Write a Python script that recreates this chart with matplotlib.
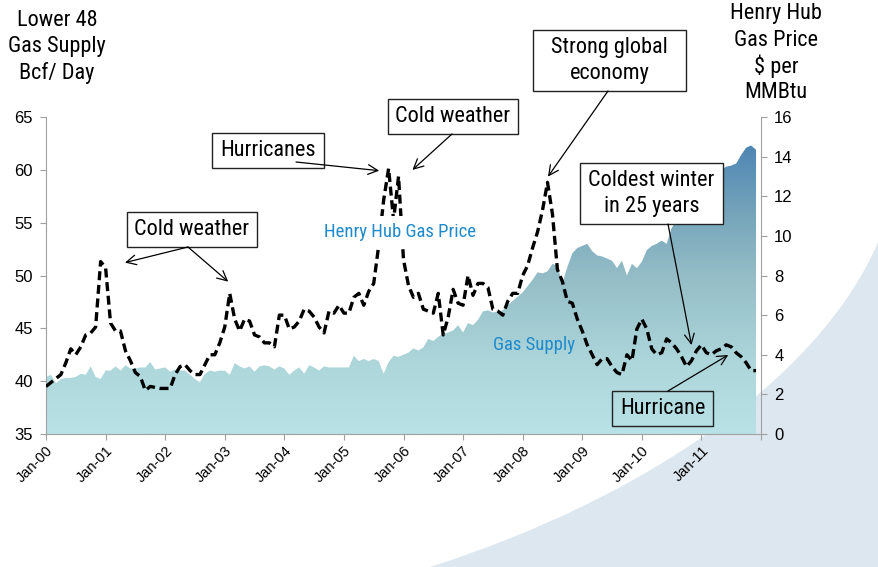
import numpy as np
import matplotlib
matplotlib.use("Agg")
import matplotlib.pyplot as plt
from matplotlib.patches import Rectangle, PathPatch, ConnectionPatch
from matplotlib.path import Path
from matplotlib.colors import LinearSegmentedColormap
from matplotlib import font_manager

# ---------------- data (monthly, Jan-2000 .. Dec-2011) ----------------
supply = [  # Lower 48 gas supply, Bcf/day
    40.4, 40.6, 39.8, 40.2, 40.3, 40.3, 40.4, 40.7, 40.6, 41.4, 40.4, 40.2,
    41.0, 41.0, 41.4, 41.0, 41.5, 41.2, 41.2, 41.3, 41.3, 41.8, 41.1, 41.2,
    41.3, 40.9, 41.1, 41.0, 41.0, 40.6, 40.2, 39.9, 40.7, 41.0, 40.9, 41.0,
    41.0, 40.6, 41.7, 41.4, 41.2, 41.4, 40.9, 41.4, 41.5, 41.4, 41.1, 41.4,
    41.2, 40.6, 41.0, 41.3, 40.7, 41.5, 41.3, 41.0, 41.4, 41.3, 41.3, 41.3,
    41.3, 41.3, 42.4, 41.9, 42.1, 41.9, 42.1, 41.9, 40.7, 41.8, 42.4, 42.3,
    42.5, 42.7, 43.1, 42.9, 43.2, 44.0, 43.8, 44.2, 44.5, 44.6, 44.8, 45.3,
    44.6, 45.5, 45.3, 45.8, 46.6, 46.7, 46.5, 46.6, 46.7, 47.2, 47.6, 48.0,
    48.4, 49.0, 49.6, 50.3, 50.2, 50.4, 51.1, 50.9, 49.3, 50.8, 52.1, 52.6,
    52.8, 53.0, 52.3, 51.9, 51.8, 51.6, 51.4, 50.7, 51.4, 50.0, 51.1, 50.7,
    51.3, 52.4, 52.8, 53.0, 53.3, 53.0, 54.5, 55.2, 55.6, 56.1, 56.5, 56.7,
    56.5, 56.0, 58.0, 59.3, 60.0, 60.3, 60.4, 60.6, 61.4, 62.1, 62.3, 61.9,
]
price = [  # Henry Hub gas price, $/MMBtu
    2.4, 2.6, 2.8, 3.0, 3.6, 4.3, 4.0, 4.4, 5.0, 5.1, 5.4, 8.7,
    8.4, 5.6, 5.2, 5.2, 4.2, 3.7, 3.1, 2.9, 2.2, 2.4, 2.35, 2.3,
    2.3, 2.3, 3.0, 3.4, 3.5, 3.2, 3.0, 3.0, 3.5, 4.0, 4.0, 4.6,
    5.4, 7.1, 5.8, 5.2, 5.8, 5.7, 5.0, 4.9, 4.6, 4.6, 4.4, 6.0,
    6.0, 5.3, 5.4, 5.7, 6.3, 6.2, 5.9, 5.4, 5.1, 6.2, 6.1, 6.5,
    6.1, 6.1, 6.9, 7.1, 6.5, 7.2, 7.6, 9.5, 11.8, 13.4, 10.8, 13.0,
    8.8, 7.5, 6.9, 7.1, 6.3, 6.2, 6.1, 7.1, 5.0, 5.9, 7.3, 6.6,
    6.5, 8.0, 7.0, 7.6, 7.6, 7.4, 6.3, 6.2, 6.0, 6.7, 7.1, 7.1,
    8.0, 8.5, 9.4, 10.2, 11.3, 12.7, 11.1, 8.3, 7.7, 6.7, 6.6, 5.8,
    5.2, 4.5, 4.0, 3.5, 3.8, 3.8, 3.4, 3.1, 3.0, 4.0, 3.7, 5.3,
    5.8, 5.3, 4.3, 4.0, 4.1, 4.8, 4.6, 4.3, 3.9, 3.4, 3.7, 4.2,
    4.5, 4.1, 4.0, 4.2, 4.3, 4.5, 4.4, 4.1, 3.9, 3.6, 3.2, 3.2,
]
years = list(range(2000, 2012))
tick_labels = [f"Jan-{y % 100:02d}" for y in years]
left_ticks = [35, 40, 45, 50, 55, 60, 65]
right_ticks = [0, 2, 4, 6, 8, 10, 12, 14, 16]

# ---------------- fonts ----------------
installed = {f.name for f in font_manager.fontManager.ttflist}
NARROW = next((n for n in ("Roboto Condensed", "Archivo Narrow", "PT Sans Narrow",
                           "Liberation Sans") if n in installed), "DejaVu Sans")
REGULAR = "Liberation Sans" if "Liberation Sans" in installed else "DejaVu Sans"
plt.rcParams["font.family"] = [REGULAR, "DejaVu Sans"]

W, H = 879, 567
fig = plt.figure(figsize=(W / 100, H / 100), dpi=100)
fig.patch.set_facecolor("white")


def fx(x):
    return x / W


def fy(y):
    return 1 - y / H


# decorative background swoosh in the lower right corner
verts = [(fx(430), fy(567)), (fx(640), fy(500)), (fx(820), fy(380)), (fx(879), fy(240)),
         (fx(879), fy(567)), (fx(430), fy(567))]
codes = [Path.MOVETO, Path.CURVE4, Path.CURVE4, Path.CURVE4, Path.LINETO, Path.CLOSEPOLY]
fig.add_artist(PathPatch(Path(verts, codes), transform=fig.transFigure,
                         facecolor="#dde7f0", edgecolor="none", zorder=-5))

# ---------------- axes ----------------
L, R, T, B = 46, 761, 117, 434
ax = fig.add_axes([fx(L), fy(B), (R - L) / W, (B - T) / H])
ax.set_facecolor("none")
months = np.arange(len(supply))
ax.set_xlim(0, 144)
ax.set_ylim(35, 65)

# gradient-filled supply area
poly = ax.fill_between(months, supply, 35, facecolor="none", edgecolor="none")
cmap = LinearSegmentedColormap.from_list(
    "supply", [(0.0, "#b9e2e6"), (0.25, "#acd6da"), (0.55, "#93bcc6"),
               (0.75, "#76a5bb"), (0.92, "#5a8fb6"), (1.0, "#4d84b0")])
grad = np.linspace(0, 1, 256).reshape(-1, 1)
im = ax.imshow(grad, extent=[0, 144, 35, 62.6], origin="lower", aspect="auto",
               cmap=cmap, zorder=1, interpolation="bilinear")
im.set_clip_path(poly.get_paths()[0], transform=ax.transData)
ax.set_xlim(0, 144)
ax.set_ylim(35, 65)

spine_c = "#a0a0a0"
for s in ("top", "right"):
    ax.spines[s].set_visible(False)
for s in ("left", "bottom"):
    ax.spines[s].set_color(spine_c)
ax.set_yticks(left_ticks)
ax.set_xticks(list(range(0, 145, 12)))
ax.set_xticklabels(tick_labels + [""], rotation=45, ha="right", va="top",
                   rotation_mode="anchor", fontsize=10.5, family=REGULAR)
ax.tick_params(axis="y", direction="out", length=4.5, color=spine_c, labelsize=12, pad=5)
ax.tick_params(axis="x", direction="out", length=4, color=spine_c, pad=3)

ax2 = ax.twinx()
ax2.set_ylim(0, 16)
ax2.set_xlim(0, 144)
ax2.plot(months, price, color="black", lw=2.4, ls=(0, (2.7, 1.4)), zorder=3)
for s in ("top", "left", "bottom"):
    ax2.spines[s].set_visible(False)
ax2.spines["right"].set_color(spine_c)
ax2.set_yticks(right_ticks)
ax2.tick_params(axis="y", direction="out", length=4.5, color=spine_c, labelsize=12, pad=5)

# ---------------- axis titles ----------------
for i, line in enumerate(["Lower 48", "Gas Supply", "Bcf/ Day"]):
    fig.text(fx(57), fy(20 + 26.5 * i), line, ha="center", va="center",
             fontsize=16, family=NARROW)
for i, line in enumerate(["Henry Hub", "Gas Price", "$ per", "MMBtu"]):
    fig.text(fx(776), fy(14 + 26.2 * i), line, ha="center", va="center",
             fontsize=16, family=NARROW)

# series labels (the price label sits on a white plate that interrupts the line)
blue = "#1f8acb"
ax2.text(0.495, 0.638, "Henry Hub Gas Price", transform=ax2.transAxes, ha="center",
         va="center", color=blue, fontsize=13.5, family=NARROW, zorder=4,
         bbox=dict(boxstyle="square,pad=0.35", facecolor="white", edgecolor="none"))
ax.text(0.683, 0.282, "Gas Supply", transform=ax.transAxes, ha="center",
        va="center", color=blue, fontsize=13.5, family=NARROW, zorder=2)

# ---------------- call-out boxes ----------------
def callout(x0, y0, x1, y1, lines, fill="white"):
    fig.add_artist(Rectangle((fx(x0), fy(y1)), (x1 - x0) / W, (y1 - y0) / H,
                             transform=fig.transFigure, facecolor=fill,
                             edgecolor="#222222", lw=1.0, zorder=5))
    n = len(lines)
    cy = (y0 + y1) / 2
    for i, line in enumerate(lines):
        yy = cy + (i - (n - 1) / 2) * 25.5
        fig.text(fx((x0 + x1) / 2), fy(yy), line, ha="center", va="center",
                 fontsize=16, family=NARROW, zorder=6)


def arrow(start, tip):
    con = ConnectionPatch(xyA=(start[0], H - start[1]), coordsA="figure pixels",
                          xyB=tip, coordsB=ax2.transData,
                          arrowstyle="->,head_length=0.7,head_width=0.35",
                          color="black", lw=0.9, shrinkA=0, shrinkB=0,
                          mutation_scale=10, zorder=7)
    fig.add_artist(con)


callout(127, 212, 257, 247, ["Cold weather"])
arrow((188, 247), (15.9, 8.65))
arrow((188, 247), (36.7, 7.69))

callout(212, 133, 324, 168, ["Hurricanes"])
arrow((296, 162), (67.1, 13.29))

callout(388, 99, 518, 134, ["Cold weather"])
arrow((452, 134), (73.8, 13.33))

callout(533, 30, 686, 91, ["Strong global", "economy"])
arrow((608, 91), (101.1, 12.99))

callout(580, 163, 723, 224, ["Coldest winter", "in 25 years"])
arrow((668, 224), (130.0, 4.49))

callout(612, 391, 713, 426, ["Hurricane"], fill="none")
arrow((668, 391), (137.4, 3.99))

fig.savefig("out.png", dpi=100)
